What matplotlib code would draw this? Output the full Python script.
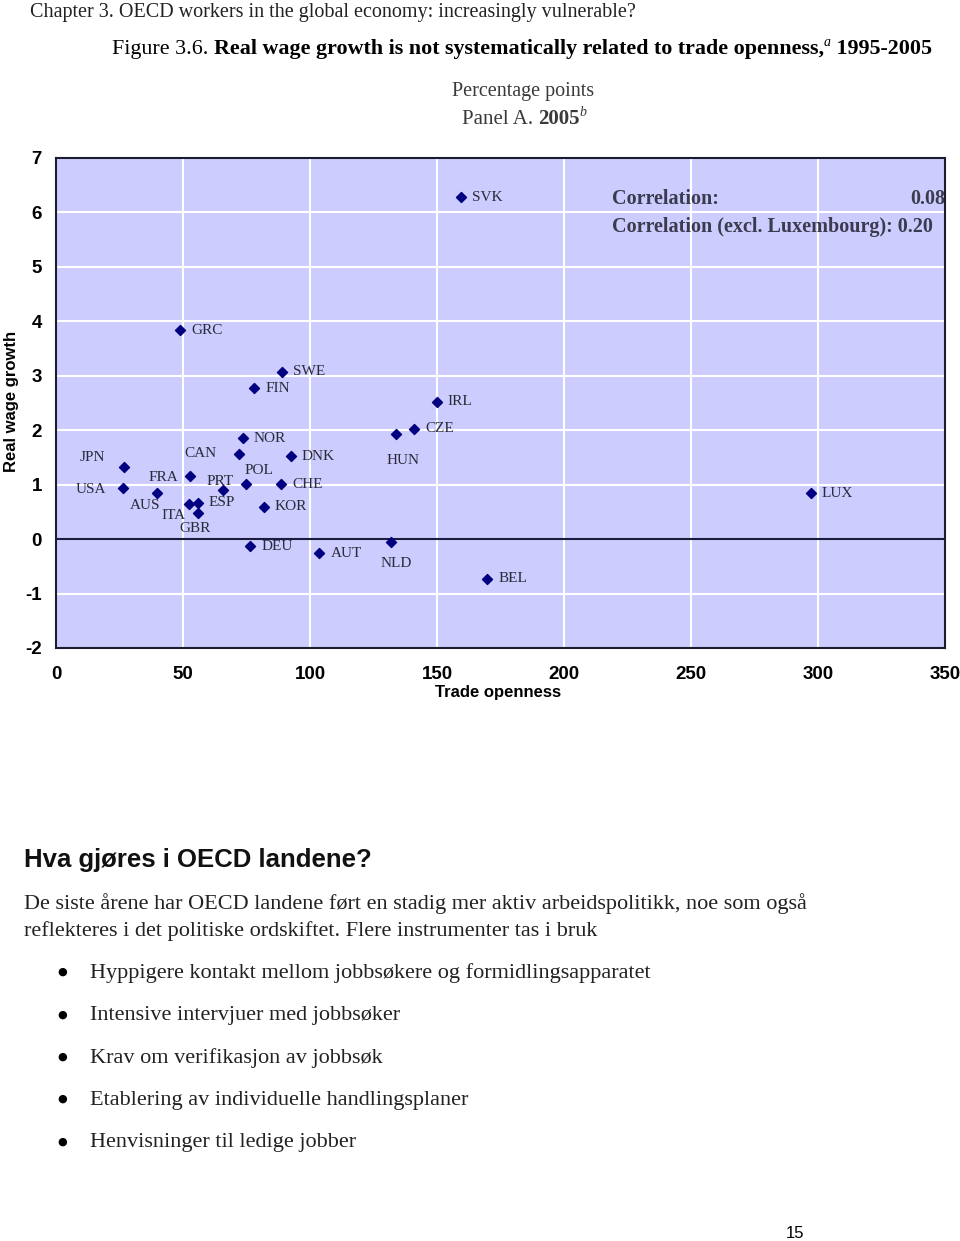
# Figure 3.6 reproduction: real wage growth vs trade openness
import matplotlib

matplotlib.use("Agg")
import matplotlib.pyplot as plt

plt.rcParams["axes.unicode_minus"] = False

W, H = 960, 1241

# country codes, trade openness (x) and real wage growth (y)
countries = ["JPN", "USA", "AUS", "FRA", "ITA", "ESP", "GBR", "GRC", "PRT", "CAN",
             "NOR", "POL", "DEU", "FIN", "KOR", "CHE", "SWE", "DNK", "AUT", "NLD",
             "HUN", "CZE", "IRL", "SVK", "BEL", "LUX"]
openness = [26.9, 26.5, 39.9, 52.9, 52.4, 55.9, 55.9, 48.8, 65.9, 71.9,
            73.6, 74.7, 76.4, 78.0, 81.9, 88.6, 89.1, 92.5, 103.7, 131.8,
            133.9, 141.1, 149.9, 159.3, 169.7, 297.2]
wage_growth = [1.33, 0.93, 0.85, 1.16, 0.64, 0.67, 0.48, 3.84, 0.90, 1.57,
               1.85, 1.01, -0.13, 2.77, 0.59, 1.01, 3.07, 1.52, -0.26, -0.05,
               1.93, 2.03, 2.52, 6.28, -0.73, 0.84]

corr_all = "0.08"
corr_excl = "0.20"

xticks = [0, 50, 100, 150, 200, 250, 300, 350]
yticks = [-2, -1, 0, 1, 2, 3, 4, 5, 6, 7]

bullets = [
    "Hyppigere kontakt mellom jobbsøkere og formidlingsapparatet",
    "Intensive intervjuer med jobbsøker",
    "Krav om verifikasjon av jobbsøk",
    "Etablering av individuelle handlingsplaner",
    "Henvisninger til ledige jobber",
]

# label placement (pixels, y up); default is just right of the marker
label_offset = {
    "JPN": (-45, 9), "USA": (-48, -1), "FRA": (-42, -2), "AUS": (-28, -13),
    "ITA": (-28, -11), "GBR": (-19, -16), "CAN": (-54, 0), "PRT": (-17, 9),
    "POL": (-1, 14), "NLD": (-10, -22), "HUN": (-10, -26),
}

fig = plt.figure(figsize=(W / 100, H / 100), dpi=100)
renderer = fig.canvas.get_renderer()


def px(x, y):
    return x / W, 1 - y / H


def runs(x, y, parts, ha="left"):
    # draw text pieces one after the other on a line
    items = []
    for txt, kw in parts:
        t = fig.text(0, 0, txt, va="baseline", **kw)
        items.append(t)
    widths = [t.get_window_extent(renderer).width for t in items]
    if ha == "center":
        x = x - sum(widths) / 2
    cur = x
    for t, w, (txt, kw) in zip(items, widths, parts):
        dy = 8 if kw.get("fontsize", 12) < 11 else 0
        t.set_position(px(cur, y - dy))
        cur += w


serif = "Liberation Serif"
sans = "Liberation Sans"

fig.text(*px(30, 17), "Chapter 3. OECD workers in the global economy: increasingly vulnerable?",
         family=serif, fontsize=14.5, va="baseline", color="#222222")
runs(112, 54, [
    ("Figure 3.6. ", dict(family=serif, fontsize=15.8)),
    ("Real wage growth is not systematically related to trade openness,", dict(family=serif, fontsize=15.8, weight="bold")),
    ("a", dict(family=serif, fontsize=10, style="italic")),
    (" 1995-2005", dict(family=serif, fontsize=15.8, weight="bold")),
])
fig.text(*px(523, 96), "Percentage points", family=serif, fontsize=14.5, va="baseline", ha="center", color="#3a3a3a")
runs(524, 124, [
    ("Panel A. ", dict(family=serif, fontsize=15, color="#3a3a3a")),
    ("2005", dict(family=serif, fontsize=15, weight="bold", color="#3a3a3a")),
    ("b", dict(family=serif, fontsize=10, style="italic", color="#3a3a3a")),
], ha="center")

# scatter panel
ax = fig.add_axes([56 / W, 1 - 648 / H, (945 - 56) / W, (648 - 158) / H])
ax.set_facecolor("#CCCCFF")
ax.set_xlim(0, 350)
ax.set_ylim(-2, 7)
ax.set_xticks(xticks)
ax.set_yticks(yticks)
ax.grid(True, color="white", linewidth=1.5)
ax.set_axisbelow(True)
ax.axhline(0, color="#1c1c40", linewidth=1.5, zorder=2)
for s in ax.spines.values():
    s.set_color("#1c1c30")
    s.set_linewidth(1.5)
ax.tick_params(length=0, labelsize=13.5, pad=10)
ax.tick_params(axis="x", pad=13)
for lab in ax.get_xticklabels() + ax.get_yticklabels():
    lab.set_fontweight("bold")
    lab.set_family(sans)

ax.scatter(openness, wage_growth, marker="D", s=26, color="#000080", zorder=3)
for c, xv, yv in zip(countries, openness, wage_growth):
    dx, dy = label_offset.get(c, (11, 0))
    ax.annotate(c, (xv, yv), xytext=(dx, dy), textcoords="offset pixels",
                ha="left", va="center", family=serif, fontsize=11, color="#2a2a3a")

fig.text(*px(612, 204), "Correlation:", family=serif, weight="bold", fontsize=14.5,
         color="#3b3b4f", va="baseline")
fig.text(*px(945, 204), corr_all, family=serif, weight="bold", fontsize=14.5,
         color="#3b3b4f", va="baseline", ha="right")
fig.text(*px(612, 232), "Correlation (excl. Luxembourg): " + corr_excl, family=serif,
         weight="bold", fontsize=14.5, color="#3b3b4f", va="baseline")

fig.text(*px(498, 692), "Trade openness", family=sans, weight="bold",
         fontsize=12, ha="center", va="center")
fig.text(*px(12, 401), "Real wage growth", family=sans, weight="bold",
         fontsize=12, ha="center", va="center", rotation=90)

# text below the chart
fig.text(*px(24, 867), "Hva gjøres i OECD landene?", family=sans, weight="bold",
         fontsize=18.5, va="baseline", color="#111111")
fig.text(*px(24, 909), "De siste årene har OECD landene ført en stadig mer aktiv arbeidspolitikk, noe som også",
         family=serif, fontsize=16, va="baseline", color="#222222")
fig.text(*px(24, 936), "reflekteres i det politiske ordskiftet. Flere instrumenter tas i bruk",
         family=serif, fontsize=16, va="baseline", color="#222222")
for i, b in enumerate(bullets):
    yy = 978 + i * 42.3
    fig.text(*px(62, yy - 6), "●", family="DejaVu Sans", fontsize=8, va="center", ha="center")
    fig.text(*px(90, yy), b, family=serif, fontsize=16, va="baseline", color="#222222")

fig.text(*px(795, 1238), "15", family=sans, fontsize=12, va="baseline", ha="center")

fig.savefig("out.png", dpi=100)
